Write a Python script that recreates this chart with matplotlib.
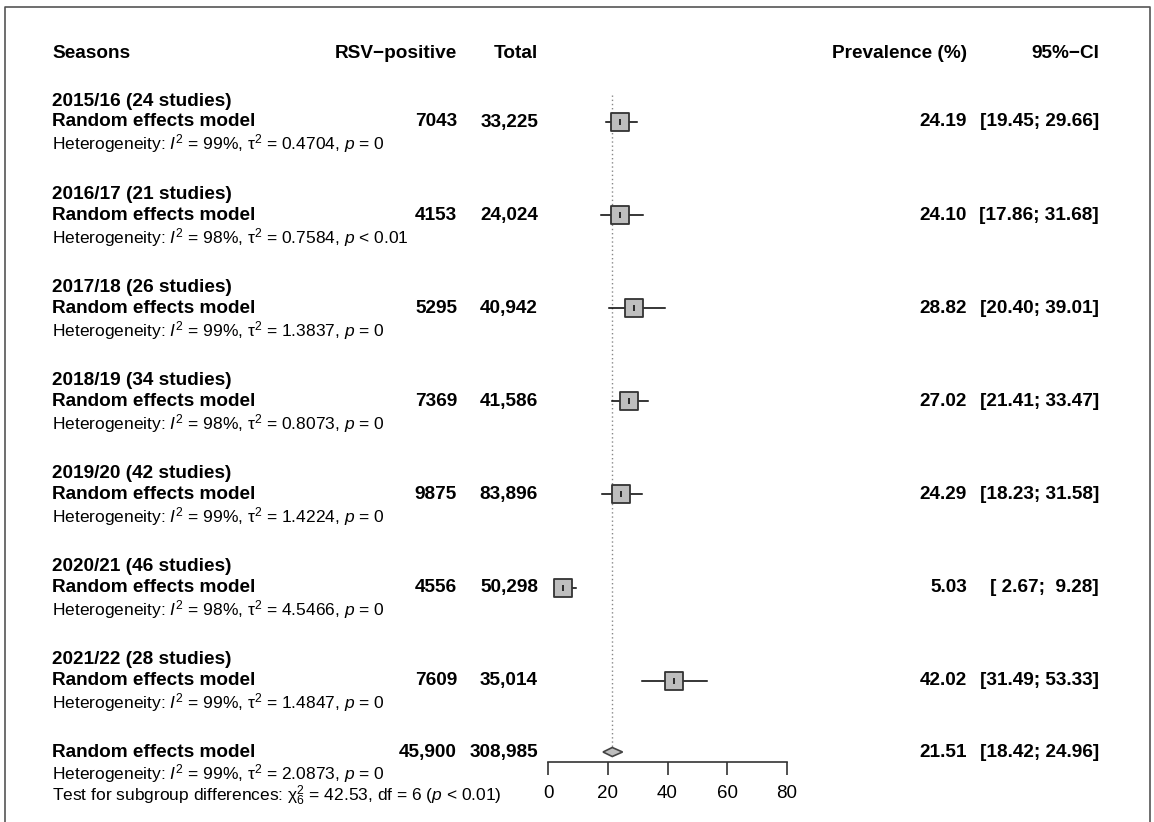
import matplotlib
matplotlib.use("Agg")
import matplotlib.pyplot as plt
from matplotlib.patches import Polygon

plt.rcParams["font.family"] = ["Liberation Sans", "DejaVu Sans"]
plt.rcParams["mathtext.fontset"] = "custom"
plt.rcParams["mathtext.rm"] = "Liberation Sans"
plt.rcParams["mathtext.it"] = "Liberation Sans:italic"

# subgroup results (random effects, per season)
seasons = ["2015/16", "2016/17", "2017/18", "2018/19", "2019/20", "2020/21", "2021/22"]
n_studies = [24, 21, 26, 34, 42, 46, 28]
events = [7043, 4153, 5295, 7369, 9875, 4556, 7609]
totals = [33225, 24024, 40942, 41586, 83896, 50298, 35014]
prev = [24.19, 24.10, 28.82, 27.02, 24.29, 5.03, 42.02]
ci_lo = [19.45, 17.86, 20.40, 21.41, 18.23, 2.67, 31.49]
ci_hi = [29.66, 31.68, 39.01, 33.47, 31.58, 9.28, 53.33]
i2 = [99, 98, 99, 98, 99, 98, 99]
tau2 = ["0.4704", "0.7584", "1.3837", "0.8073", "1.4224", "4.5466", "1.4847"]
pvals = ["= 0", "< 0.01", "= 0", "= 0", "= 0", "= 0", "= 0"]

# pooled result
all_events = 45900
all_total = 308985
all_prev = 21.51
all_lo = 18.42
all_hi = 24.96
all_i2 = 99
all_tau2 = "2.0873"
chi2 = 42.53
chi2_df = 6

xticks = [0, 20, 40, 60, 80]

W, H = 1154, 822
BOLD = 13.7
SMALL = 12.5


def fmt_n(n):
    return f"{n:,}" if n >= 10000 else str(n)


def fmt_ci(lo, hi):
    return f"[{lo:5.2f}; {hi:5.2f}]"


fig = plt.figure(figsize=(W / 100, H / 100), dpi=100)

# text layer in pixel coordinates
tx = fig.add_axes([0, 0, 1, 1])
tx.set_xlim(0, W)
tx.set_ylim(H, 0)
tx.axis("off")

# open frame (no bottom edge)
tx.plot([5, 5, 1150, 1150], [H, 7, 7, H], color="#555555", lw=1.2)

# forest panel: x in prevalence units, y in pixel rows
x0, x1, y_axis = 548, 787, 762
ax = fig.add_axes([x0 / W, (H - y_axis) / H, (x1 - x0) / W, y_axis / H])
ax.set_xlim(0, 80)
ax.set_ylim(y_axis, 0)
for s in ["top", "left", "right"]:
    ax.spines[s].set_visible(False)
ax.spines["bottom"].set_bounds(0, 80)
ax.spines["bottom"].set_color("#333333")
ax.spines["bottom"].set_linewidth(1.2)
ax.set_xticks(xticks)
ax.set_xticklabels([str(t) for t in xticks], fontsize=13.5)
ax.tick_params(axis="x", length=9.5, width=1.2, color="#333333", pad=7)
ax.set_yticks([])
ax.patch.set_alpha(0)

col_left = 52
col_ev = 457
col_tot = 538
col_prev = 967
col_ci = 1099

y_head = 54
tx.text(col_left, y_head, "Seasons", fontsize=BOLD, weight="bold", va="center")
tx.text(col_ev, y_head, "RSV\u2212positive", fontsize=BOLD, weight="bold", va="center", ha="right")
tx.text(col_tot, y_head, "Total", fontsize=BOLD, weight="bold", va="center", ha="right")
tx.text(col_prev, y_head, "Prevalence (%)", fontsize=BOLD, weight="bold", va="center", ha="right")
tx.text(col_ci, y_head, "95%\u2212CI", fontsize=BOLD, weight="bold", va="center", ha="right")

row0, step = 122, 93.1
for i, season in enumerate(seasons):
    y = row0 + i * step
    tx.text(col_left, y - 21, f"{season} ({n_studies[i]} studies)", fontsize=BOLD,
            weight="bold", va="center")
    tx.text(col_left, y, "Random effects model", fontsize=BOLD, weight="bold", va="center")
    tx.text(col_ev, y, str(events[i]), fontsize=BOLD, weight="bold", va="center", ha="right")
    tx.text(col_tot, y, fmt_n(totals[i]), fontsize=BOLD, weight="bold", va="center", ha="right")
    tx.text(col_prev, y, f"{prev[i]:.2f}", fontsize=BOLD, weight="bold", va="center", ha="right")
    tx.text(col_ci, y, fmt_ci(ci_lo[i], ci_hi[i]), fontsize=BOLD, weight="bold",
            va="center", ha="right")
    tx.text(col_left, y + 22,
            f"Heterogeneity: $I^2$ = {i2[i]}%, \u03c4$^2$ = {tau2[i]}, $p$ {pvals[i]}",
            fontsize=SMALL, va="center")

    ax.plot([ci_lo[i], ci_hi[i]], [y, y], color="black", lw=1.1, zorder=2)
    ax.scatter([prev[i]], [y], marker="s", s=150, facecolor="#bebebe",
               edgecolor="#333333", linewidth=1.3, zorder=3)
    ax.plot([prev[i]], [y], marker="|", markersize=4.5, color="black",
            markeredgewidth=1.1, zorder=4)

# pooled row
y_all = 752
tx.text(col_left, y_all, "Random effects model", fontsize=BOLD, weight="bold", va="center")
tx.text(col_ev, y_all, fmt_n(all_events), fontsize=BOLD, weight="bold", va="center", ha="right")
tx.text(col_tot, y_all, fmt_n(all_total), fontsize=BOLD, weight="bold", va="center", ha="right")
tx.text(col_prev, y_all, f"{all_prev:.2f}", fontsize=BOLD, weight="bold", va="center", ha="right")
tx.text(col_ci, y_all, fmt_ci(all_lo, all_hi), fontsize=BOLD, weight="bold",
        va="center", ha="right")
tx.text(col_left, y_all + 22,
        f"Heterogeneity: $I^2$ = {all_i2}%, \u03c4$^2$ = {all_tau2}, $p$ = 0",
        fontsize=SMALL, va="center")
tx.text(col_left, y_all + 44,
        f"Test for subgroup differences: \u03c7$^2_{chi2_df}$ = {chi2:.2f}, df = {chi2_df} ($p$ < 0.01)",
        fontsize=SMALL, va="center")

ax.add_patch(Polygon([(all_lo, y_all), (all_prev, y_all - 4.5), (all_hi, y_all),
                      (all_prev, y_all + 4.5)], closed=True, facecolor="#bebebe",
                     edgecolor="#444444", lw=1.2, zorder=3))

# reference line at the pooled estimate
ax.plot([all_prev, all_prev], [95, y_all - 5], color="#888888", lw=1.0,
        linestyle=(0, (1, 2)), zorder=1)

fig.savefig("out.png", dpi=100)
